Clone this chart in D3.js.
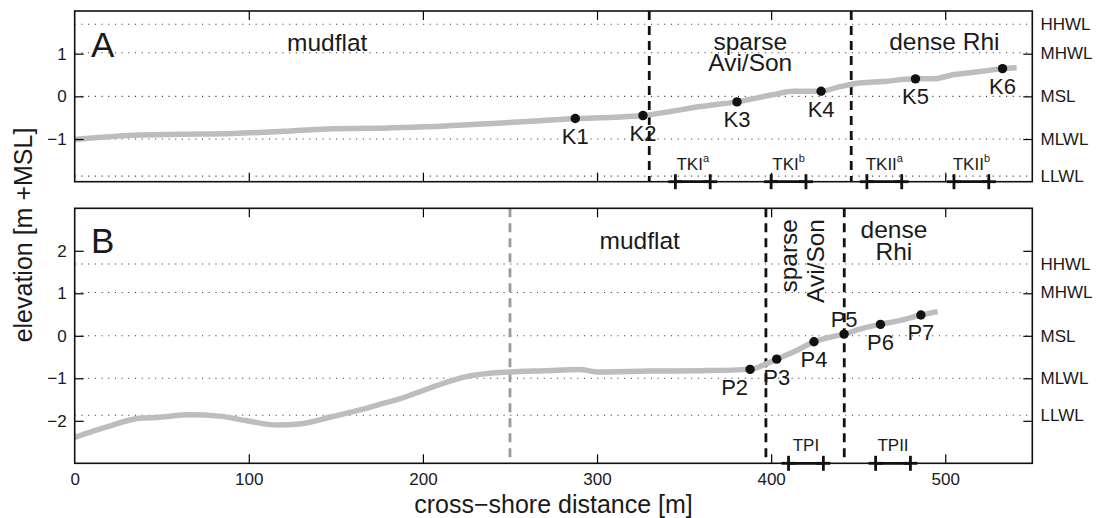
<!DOCTYPE html>
<html>
<head>
<meta charset="utf-8">
<script src="https://cdn.jsdelivr.net/npm/d3@7"></script>
<style>
body { margin: 0; background: #fff; }
svg text { font-family: "Liberation Sans", Arial, Helvetica, sans-serif; fill: #1a1a1a; }
</style>
</head>
<body>
<svg id="chart" width="1099" height="518"></svg>
<script>
// tidal reference levels [m +MSL]
var levelNames = ["HHWL", "MHWL", "MSL", "MLWL", "LLWL"];
var levelValues = [1.69, 1.02, 0, -1.0, -1.87];

// panel A: cross-shore profile
var distA = [0, 15, 34, 60, 91, 120, 149, 175, 187, 210, 233, 260, 287.5, 310, 326.4, 343, 359, 380.4, 400, 413, 428.7, 438, 447, 465, 483, 493, 505, 520, 533, 541];
var elevA = [-1.01, -0.96, -0.91, -0.89, -0.87, -0.82, -0.76, -0.75, -0.73, -0.70, -0.65, -0.59, -0.52, -0.49, -0.45, -0.35, -0.24, -0.13, 0.03, 0.12, 0.12, 0.21, 0.29, 0.35, 0.41, 0.41, 0.51, 0.58, 0.65, 0.67];
var stationNamesA = ["K1", "K2", "K3", "K4", "K5", "K6"];
var stationDistA = [287.5, 326.4, 380.4, 428.7, 482.9, 532.9];
var stationElevA = [-0.52, -0.45, -0.13, 0.12, 0.41, 0.65];
var zoneEdgesA = [330, 446];
var transectNamesA = ["TKI", "TKI", "TKII", "TKII"];
var transectSupA = ["a", "b", "a", "b"];
var transectFromA = [345, 400, 455, 505];
var transectToA = [365, 420, 475, 525];

// panel B: cross-shore profile
var distB = [0, 18, 37, 47, 66, 83, 99, 116, 130, 148, 168, 178, 187, 194, 213, 225, 250, 270, 290, 300, 330, 360, 388, 396, 403.2, 415, 424.6, 433, 441.9, 452, 462.8, 475, 486, 495.6];
var elevB = [-2.39, -2.15, -1.94, -1.92, -1.86, -1.89, -2.00, -2.10, -2.07, -1.90, -1.70, -1.58, -1.48, -1.38, -1.10, -0.96, -0.85, -0.82, -0.79, -0.85, -0.83, -0.82, -0.79, -0.68, -0.55, -0.34, -0.14, -0.04, 0.04, 0.17, 0.27, 0.37, 0.49, 0.57];
var stationNamesB = ["P2", "P3", "P4", "P5", "P6", "P7"];
var stationDistB = [387.9, 403.2, 424.6, 441.9, 462.8, 486];
var stationElevB = [-0.79, -0.55, -0.14, 0.04, 0.27, 0.49];
var mudflatEdgeB = 250;
var zoneEdgesB = [397, 442];
var transectNamesB = ["TPI", "TPII"];
var transectSupB = ["", ""];
var transectFromB = [410, 460];
var transectToB = [430, 480];

// axes
var xDomain = [0, 550];
var xTicks = [0, 100, 200, 300, 400, 500];
var yDomainA = [-2, 2];
var yDomainB = [-3, 3];
var yTicksA = [-1, 0, 1];
var yTicksB = [-2, -1, 0, 1, 2];

var svg = d3.select("#chart");
var left = 74.7, right = 1032.3;

var x = d3.scaleLinear().domain(xDomain).range([left, right]);

function drawPanel(p) {
    var y = d3.scaleLinear().domain(p.yDomain).range([p.bottom, p.top]);
    var g = svg.append("g");

    // dotted tidal level lines
    g.selectAll(".lvl")
        .data(levelValues)
        .enter().append("line")
        .attr("x1", left).attr("x2", right)
        .attr("y1", function(d) { return y(d); })
        .attr("y2", function(d) { return y(d); })
        .attr("stroke", "#3a3a3a")
        .attr("stroke-width", 1.1)
        .attr("stroke-dasharray", "1.1,5.6");

    // zone boundaries
    if (p.greyEdge != null) {
        g.append("line")
            .attr("x1", x(p.greyEdge)).attr("x2", x(p.greyEdge))
            .attr("y1", p.top).attr("y2", p.bottom)
            .attr("stroke", "#9a9a9a").attr("stroke-width", 2.8)
            .attr("stroke-dasharray", "9,6");
    }
    g.selectAll(".zone")
        .data(p.zoneEdges)
        .enter().append("line")
        .attr("x1", function(d) { return x(d); })
        .attr("x2", function(d) { return x(d); })
        .attr("y1", p.top).attr("y2", p.bottom)
        .attr("stroke", "#111").attr("stroke-width", 2.8)
        .attr("stroke-dasharray", "9,6");

    // profile
    var line = d3.line()
        .x(function(d) { return x(d[0]); })
        .y(function(d) { return y(d[1]); })
        .curve(d3.curveMonotoneX);
    g.append("path")
        .datum(d3.zip(p.dist, p.elev))
        .attr("d", line)
        .attr("fill", "none")
        .attr("stroke", "#bdbdc1")
        .attr("stroke-width", 5.5)
        .attr("stroke-linejoin", "round");

    // stations
    var st = d3.range(p.names.length);
    g.selectAll(".stn")
        .data(st)
        .enter().append("circle")
        .attr("cx", function(i) { return x(p.sDist[i]); })
        .attr("cy", function(i) { return y(p.sElev[i]); })
        .attr("r", 4.7)
        .attr("fill", "#111");
    g.selectAll(".stnlab")
        .data(st)
        .enter().append("text")
        .attr("font-size", 22)
        .attr("x", function(i) {
            var pl = p.place[p.names[i]];
            return x(p.sDist[i]) + (pl === "left" ? -2 : 0);
        })
        .attr("y", function(i) {
            var pl = p.place[p.names[i]];
            return y(p.sElev[i]) + (pl === "above" ? -7 : 25.5);
        })
        .attr("text-anchor", function(i) { return p.place[p.names[i]] === "left" ? "end" : "middle"; })
        .text(function(i) { return p.names[i]; });

    // axes, ticks pointing inward
    var gl = g.append("g").attr("transform", "translate(" + left + ",0)")
        .call(d3.axisLeft(y).tickValues(p.yTicks).tickSize(-9).tickPadding(8).tickFormat(d3.format("d")));
    var gr = g.append("g").attr("transform", "translate(" + right + ",0)")
        .call(d3.axisRight(y).tickValues(p.yTicks).tickSize(-9).tickFormat(""));
    var gt = g.append("g").attr("transform", "translate(0," + p.top + ")")
        .call(d3.axisTop(x).tickValues(xTicks.slice(1)).tickSize(-9).tickFormat(""));
    var gb = g.append("g").attr("transform", "translate(0," + p.bottom + ")")
        .call(d3.axisBottom(x).tickValues(p.xLabels ? xTicks : xTicks.slice(1)).tickSize(-9).tickPadding(9.5)
            .tickFormat(p.xLabels ? d3.format("d") : ""));
    [gl, gr, gt, gb].forEach(function(a) {
        a.attr("font-size", 17).attr("font-family", null);
        a.select(".domain").remove();
        a.selectAll(".tick line").attr("stroke-width", 1.2);
    });
    if (p.xLabels) gb.select(".tick line").remove();

    // right side level names
    g.selectAll(".lvlname")
        .data(levelNames)
        .enter().append("text")
        .attr("x", 1040.5)
        .attr("y", function(d, i) { return y(levelValues[i]); })
        .attr("dy", "0.35em")
        .attr("font-size", 17)
        .text(function(d) { return d; });

    // frame
    g.append("rect")
        .attr("x", left).attr("y", p.top)
        .attr("width", right - left).attr("height", p.bottom - p.top)
        .attr("fill", "none").attr("stroke", "#111").attr("stroke-width", 1.6);

    // transect bars along the bottom
    var tr = d3.range(p.tNames.length);
    var tg = g.selectAll(".tr").data(tr).enter().append("g")
        .attr("stroke", "#111").attr("stroke-width", 2.8);
    tg.append("line")
        .attr("x1", function(i) { return x(p.tFrom[i]); })
        .attr("x2", function(i) { return x(p.tTo[i]); })
        .attr("y1", p.bottom).attr("y2", p.bottom);
    [p.tFrom, p.tTo].forEach(function(arr) {
        tg.append("line")
            .attr("x1", function(i) { return x(arr[i]) - 7; })
            .attr("x2", function(i) { return x(arr[i]) + 7; })
            .attr("y1", p.bottom).attr("y2", p.bottom);
        tg.append("line")
            .attr("x1", function(i) { return x(arr[i]); })
            .attr("x2", function(i) { return x(arr[i]); })
            .attr("y1", p.bottom - 7.5).attr("y2", p.bottom + 7.5);
    });
    var tl = g.selectAll(".trlab").data(tr).enter().append("text")
        .attr("x", function(i) { return x((p.tFrom[i] + p.tTo[i]) / 2); })
        .attr("y", p.bottom - 12)
        .attr("font-size", 17)
        .attr("text-anchor", "middle");
    tl.append("tspan").text(function(i) { return p.tNames[i]; });
    tl.append("tspan")
        .attr("font-size", 11)
        .attr("dy", -8)
        .text(function(i) { return p.tSup[i]; });

    // panel letter
    g.append("text")
        .attr("x", 91).attr("y", p.letterY)
        .attr("font-size", 35)
        .text(p.letter);

    return { g: g, y: y };
}

var A = drawPanel({
    top: 11, bottom: 181.7, yDomain: yDomainA, yTicks: yTicksA,
    dist: distA, elev: elevA,
    names: stationNamesA, sDist: stationDistA, sElev: stationElevA,
    place: {},
    zoneEdges: zoneEdgesA, greyEdge: null,
    tNames: transectNamesA, tSup: transectSupA, tFrom: transectFromA, tTo: transectToA,
    xLabels: false, letter: "A", letterY: 56.7
});

var B = drawPanel({
    top: 208.3, bottom: 463.3, yDomain: yDomainB, yTicks: yTicksB,
    dist: distB, elev: elevB,
    names: stationNamesB, sDist: stationDistB, sElev: stationElevB,
    place: { P2: "left", P5: "above" },
    zoneEdges: zoneEdgesB, greyEdge: mudflatEdgeB,
    tNames: transectNamesB, tSup: transectSupB, tFrom: transectFromB, tTo: transectToB,
    xLabels: true, letter: "B", letterY: 253
});

// zone names (multi-line ones as one text with tspans)
var zoneFont = 24.5;
function zoneText(g, xv, yv, lines, lineGap) {
    var t = g.append("text")
        .attr("x", x(xv)).attr("y", yv)
        .attr("font-size", zoneFont)
        .attr("text-anchor", "middle");
    lines.forEach(function(s, k) {
        t.append("tspan")
            .attr("x", x(xv))
            .attr("dy", k === 0 ? 0 : lineGap)
            .text(s);
    });
}
zoneText(A.g, 145, 50.7, ["mudflat"]);
zoneText(A.g, (zoneEdgesA[0] + zoneEdgesA[1]) / 2, 50, ["sparse", "Avi/Son"], 20.7);
zoneText(A.g, 499.5, 50.3, ["dense Rhi"]);

zoneText(B.g, (mudflatEdgeB + zoneEdgesB[0]) / 2 + 1, 248.5, ["mudflat"]);
zoneText(B.g, 470.5, 237.7, ["dense", "Rhi"], 21.8);

// rotated zone name between the two dashed lines of panel B
var rot = B.g.append("text")
    .attr("transform", "translate(797,219) rotate(-90)")
    .attr("font-size", zoneFont)
    .attr("text-anchor", "end");
rot.append("tspan").attr("x", 0).attr("y", 0).text("sparse");
rot.append("tspan").attr("x", 0).attr("y", 27).text("Avi/Son");

// axis titles
svg.append("text")
    .attr("x", (left + right) / 2).attr("y", 513.3)
    .attr("font-size", 25)
    .attr("text-anchor", "middle")
    .text("cross\u2212shore distance [m]");
svg.append("text")
    .attr("transform", "translate(32,235) rotate(-90)")
    .attr("font-size", 25)
    .attr("text-anchor", "middle")
    .text("elevation [m +MSL]");
</script>
</body>
</html>
